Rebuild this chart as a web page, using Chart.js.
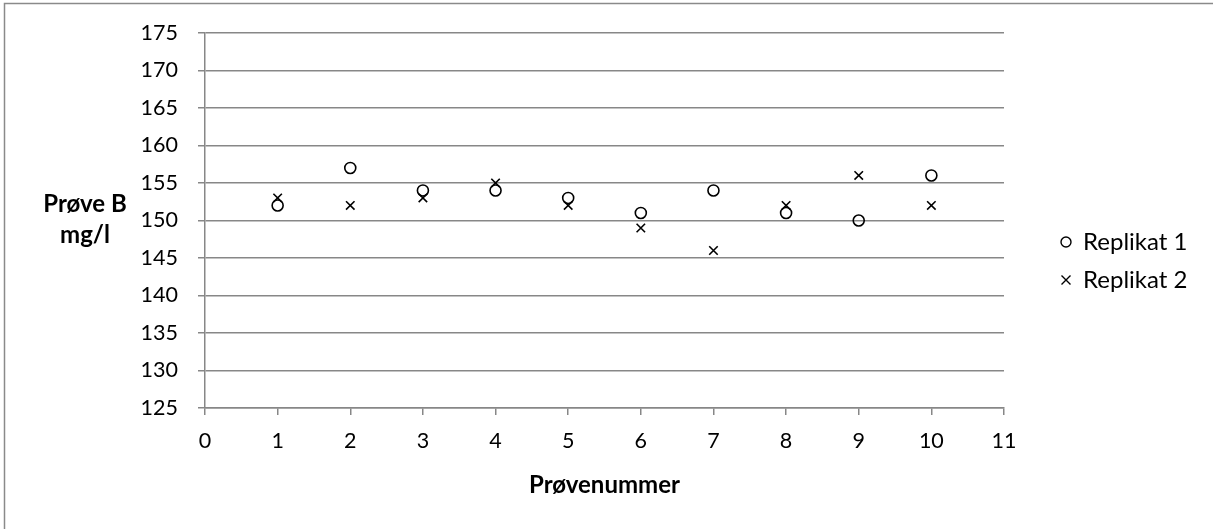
<!DOCTYPE html>
<html>
<head>
<meta charset="utf-8">
<script src="https://cdn.jsdelivr.net/npm/chart.js@4/dist/chart.umd.min.js"></script>
<style>
html,body{margin:0;padding:0;background:#fff;}
#wrap{position:relative;width:1213px;height:529px;}
</style>
</head>
<body>
<div id="wrap"><canvas id="c" width="1213" height="529"></canvas></div>
<script>
const sampleNumbers = [1, 2, 3, 4, 5, 6, 7, 8, 9, 10];
const replikat1 = [152, 157, 154, 154, 153, 151, 154, 151, 150, 156];
const replikat2 = [153, 152, 153, 155, 152, 149, 146, 152, 156, 152];
const seriesNames = ['Replikat 1', 'Replikat 2'];
const xTitle = 'Prøvenummer';
const yTitleLines = ['Prøve B', 'mg/l'];

const FONT = 'Lato, "Open Sans", sans-serif';
const GRID = '#878787';
const TICK_SIZE = 21.5;
const TEXT_SIZE = 24;

const frame = {
  id: 'frame',
  beforeDraw(chart) {
    const ctx = chart.ctx;
    ctx.save();
    ctx.fillStyle = '#fff';
    ctx.fillRect(0, 0, chart.width, chart.height);
    ctx.strokeStyle = '#8a8a8a';
    ctx.lineWidth = 1.5;
    ctx.beginPath();
    ctx.moveTo(4.5, chart.height + 5);
    ctx.lineTo(4.5, 3.5);
    ctx.lineTo(chart.width + 5, 3.5);
    ctx.stroke();
    ctx.restore();
  },
  afterDraw(chart) {
    const ctx = chart.ctx;
    ctx.save();
    ctx.fillStyle = '#000';
    ctx.font = 'bold ' + TEXT_SIZE + 'px ' + FONT;
    ctx.textAlign = 'center';
    ctx.textBaseline = 'middle';
    ctx.fillText(yTitleLines[0], 85, 204);
    ctx.fillText(yTitleLines[1], 85, 235);
    // legend
    ctx.font = TEXT_SIZE + 'px ' + FONT;
    ctx.textAlign = 'left';
    const items = [{y: 242, style: 'circle'}, {y: 280, style: 'cross'}];
    items.forEach((it, i) => {
      ctx.strokeStyle = '#000';
      ctx.lineWidth = 1.4;
      const cx = 1066;
      if (it.style === 'circle') {
        ctx.beginPath();
        ctx.arc(cx, it.y, 5, 0, Math.PI * 2);
        ctx.stroke();
      } else {
        ctx.beginPath();
        ctx.moveTo(cx - 4.5, it.y - 4.5); ctx.lineTo(cx + 4.5, it.y + 4.5);
        ctx.moveTo(cx + 4.5, it.y - 4.5); ctx.lineTo(cx - 4.5, it.y + 4.5);
        ctx.stroke();
      }
      ctx.fillText(seriesNames[i], 1083, it.y);
    });
    ctx.restore();
  }
};

new Chart(document.getElementById('c'), {
  type: 'scatter',
  data: {
    datasets: [
      {
        label: seriesNames[0],
        data: sampleNumbers.map((x, i) => ({x: x, y: replikat1[i]})),
        pointStyle: 'circle',
        pointRadius: 5.5,
        pointBorderWidth: 1.6,
        borderColor: '#000',
        backgroundColor: 'rgba(255,255,255,0)'
      },
      {
        label: seriesNames[1],
        data: sampleNumbers.map((x, i) => ({x: x, y: replikat2[i]})),
        pointStyle: 'crossRot',
        pointRadius: 6,
        pointBorderWidth: 1.6,
        borderColor: '#000',
        backgroundColor: '#000'
      }
    ]
  },
  options: {
    responsive: false,
    animation: false,
    devicePixelRatio: 1,
    layout: {padding: {left: 135, right: 209, top: 31, bottom: 29}},
    plugins: {legend: {display: false}, tooltip: {enabled: false}},
    scales: {
      x: {
        type: 'linear', min: 0, max: 11,
        afterFit(s) { s.height = 92; },
        ticks: {stepSize: 1, color: '#000', font: {family: FONT, size: TICK_SIZE}, padding: 13},
        grid: {drawOnChartArea: false, drawTicks: true, tickLength: 7, color: GRID, lineWidth: 1.5},
        border: {color: GRID, width: 1.5},
        title: {display: true, text: xTitle, color: '#000', font: {family: FONT, size: TEXT_SIZE, weight: 'bold'}, padding: {top: 10, bottom: 0}}
      },
      y: {
        min: 125, max: 175,
        afterFit(s) { s.width = 70; },
        ticks: {stepSize: 5, color: '#000', font: {family: FONT, size: TICK_SIZE}, padding: 20},
        grid: {color: GRID, lineWidth: 1.5, tickLength: 7},
        border: {color: GRID, width: 1.5}
      }
    }
  },
  plugins: [frame]
});
</script>
</body>
</html>
